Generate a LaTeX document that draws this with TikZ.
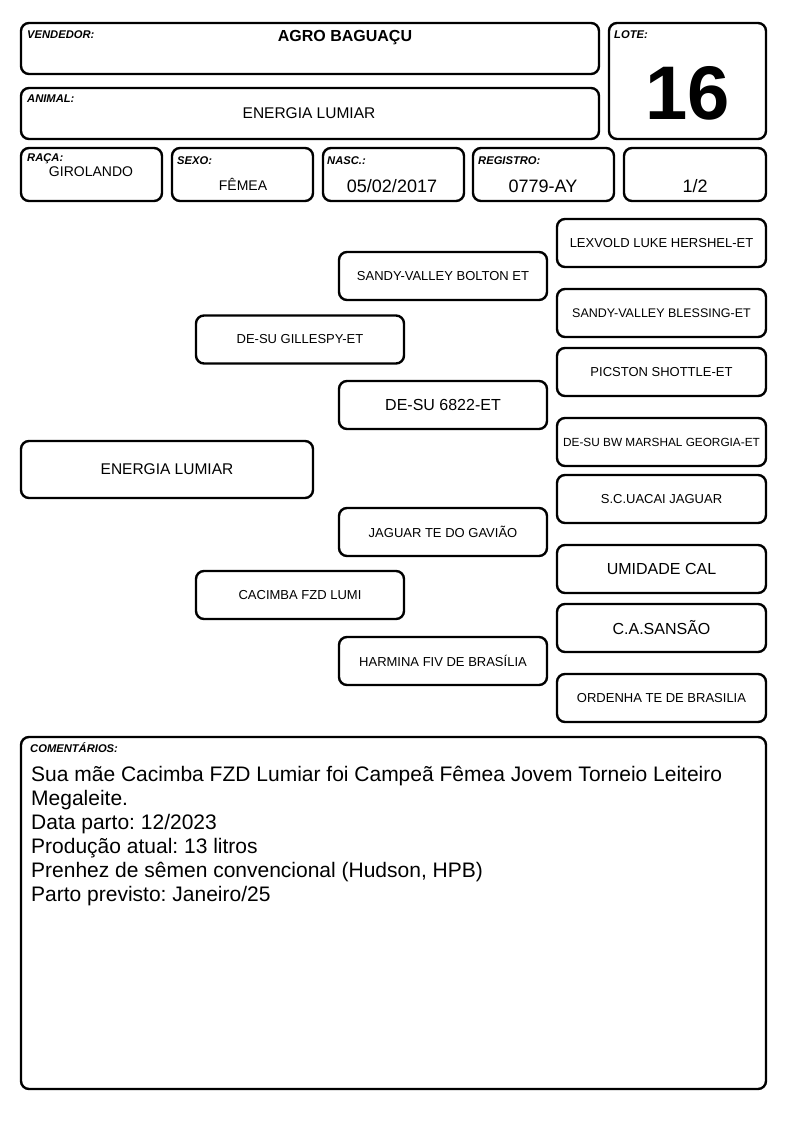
\documentclass[tikz,border=0pt]{standalone}
\usepackage{fontspec}
\setmainfont{Liberation Sans}
\frenchspacing
\begin{document}
\begin{tikzpicture}[x=1pt,y=-1pt,
  box/.style={draw=black,line width=2.4pt,rounded corners=8pt,inner sep=0pt},
  lab/.style={anchor=west,inner sep=0pt,font=\fontsize{11.2}{12}\selectfont\bfseries\itshape},
  ped/.style={box,minimum width=208pt,minimum height=48pt,font=\fontsize{13}{15}\selectfont},
  pedr/.style={ped,minimum width=209pt},
  big/.style={font=\fontsize{16}{18}\selectfont},
  cline/.style={anchor=base west,inner sep=0pt,font=\fontsize{21}{24}\selectfont}]
\useasboundingbox (0,0) rectangle (794,1123);
% header
\node[box,minimum width=578pt,minimum height=51pt] (vend) at (310,48.5) {};
\node[lab] (vendl) at (27,35) {VENDEDOR:};
\node[inner sep=0pt,font=\fontsize{16}{18}\selectfont\bfseries] (vendt) at (345,38) {AGRO BAGUAÇU};
\node[box,minimum width=578pt,minimum height=51pt] (anim) at (310,113.5) {};
\node[lab] (animl) at (27,99) {ANIMAL:};
\node[inner sep=0pt,font=\fontsize{15.5}{18}\selectfont] (animt) at (309,113) {ENERGIA LUMIAR};
\node[box,minimum width=157pt,minimum height=116pt] (lote) at (687.5,81) {};
\node[lab] (lotel) at (614,35) {LOTE:};
\node[inner sep=0pt,font=\fontsize{76}{80}\selectfont\bfseries] (lotet) at (688,93) {16};
% row 3
\node[box,minimum width=141pt,minimum height=53pt] (raca) at (91.5,174.5) {};
\node[lab] (racal) at (27,159) {RAÇA:};
\node[inner sep=0pt,font=\fontsize{14}{16}\selectfont] (racat) at (91,172) {GIROLANDO};
\node[box,minimum width=141pt,minimum height=53pt] (sexo) at (242.5,174.5) {};
\node[lab] (sexol) at (177,161) {SEXO:};
\node[inner sep=0pt,font=\fontsize{14}{16}\selectfont] (sexot) at (243,184) {FÊMEA};
\node[box,minimum width=141pt,minimum height=53pt] (nasc) at (393.5,174.5) {};
\node[lab] (nascl) at (327,161) {NASC.:};
\node[inner sep=0pt,font=\fontsize{18}{20}\selectfont] (nasct) at (392,186) {05/02/2017};
\node[box,minimum width=141pt,minimum height=53pt] (reg) at (543.5,174.5) {};
\node[lab] (regl) at (478,161) {REGISTRO:};
\node[inner sep=0pt,font=\fontsize{18}{20}\selectfont] (regt) at (543,186) {0779-AY};
\node[box,minimum width=142pt,minimum height=53pt] (pag) at (695,174.5) {};
\node[inner sep=0pt,font=\fontsize{18}{20}\selectfont] (pagt) at (695,186) {1/2};
% pedigree
\node[box,minimum width=292pt,minimum height=57pt,font=\fontsize{15.5}{18}\selectfont] (p0) at (167,469.5) {ENERGIA LUMIAR};
\node[ped] (g1) at (300,339.5) {DE-SU GILLESPY-ET};
\node[ped] (g2) at (300,595) {CACIMBA FZD LUMI};
\node[ped] (gg1) at (443,276) {SANDY-VALLEY BOLTON ET};
\node[ped,big] (gg2) at (443,405) {DE-SU 6822-ET};
\node[ped] (gg3) at (443,532) {JAGUAR TE DO GAVIÃO};
\node[ped] (gg4) at (443,661) {HARMINA FIV DE BRASÍLIA};
\node[pedr] (r1) at (661.5,243) {LEXVOLD LUKE HERSHEL-ET};
\node[pedr,font=\fontsize{12.5}{15}\selectfont] (r2) at (661.5,313) {SANDY-VALLEY BLESSING-ET};
\node[pedr] (r3) at (661.5,372) {PICSTON SHOTTLE-ET};
\node[pedr,font=\fontsize{11.8}{14}\selectfont] (r4) at (661.5,442) {DE-SU BW MARSHAL GEORGIA-ET};
\node[pedr] (r5) at (661.5,499) {S.C.UACAI JAGUAR};
\node[pedr,big] (r6) at (661.5,569) {UMIDADE CAL};
\node[pedr,big] (r7) at (661.5,628) {C.A.SANSÃO};
\node[pedr] (r8) at (661.5,698) {ORDENHA TE DE BRASILIA};
% comments
\node[box,minimum width=745pt,minimum height=352pt] (com) at (393.5,913) {};
\node[lab] (coml) at (30,748) {COMENTÁRIOS:};
\node[cline] (c1) at (31,781) {Sua mãe Cacimba FZD Lumiar foi Campeã Fêmea Jovem Torneio Leiteiro};
\node[cline] (c2) at (31,805) {Megaleite.};
\node[cline] (c3) at (31,829) {Data parto: 12/2023};
\node[cline] (c4) at (31,853) {Produção atual: 13 litros};
\node[cline] (c5) at (31,877) {Prenhez de sêmen convencional (Hudson, HPB)};
\node[cline] (c6) at (31,901) {Parto previsto: Janeiro/25};
\end{tikzpicture}
\end{document}
